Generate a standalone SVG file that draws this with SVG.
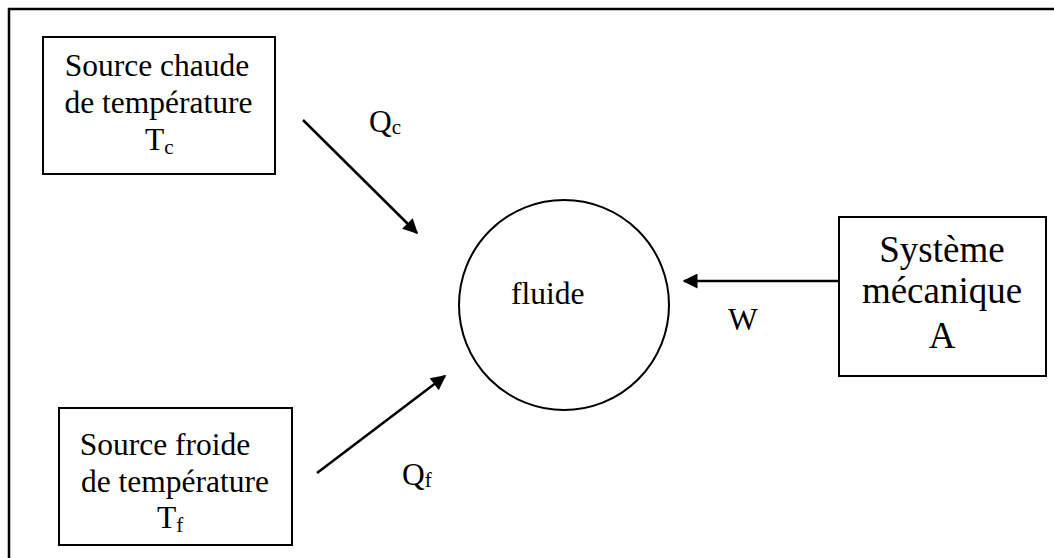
<svg xmlns="http://www.w3.org/2000/svg" width="1054" height="558" viewBox="0 0 1054 558">
<style>
.box{fill:#fff;stroke:#000;stroke-width:2}
.t{font-family:"Liberation Serif","Times New Roman",serif;font-size:31.5px;fill:#000}
.big{font-size:37px}
.sub{font-size:21px}
.c{text-anchor:middle}
.line{stroke:#000;stroke-width:2.5;fill:none}
</style>
<defs>
<marker id="ah2" viewBox="0 0 10 10" refX="9" refY="5" markerWidth="18" markerHeight="15" orient="auto" markerUnits="userSpaceOnUse">
<path d="M0,0 L10,5 L0,10 z" fill="#000"/>
</marker>
</defs>
<rect width="1054" height="558" fill="#fff"/>
<g id="frame">
<path d="M9,560 L9,9 L1056,9" fill="none" stroke="#000" stroke-width="2.5"/>
</g>
<g id="hot">
<rect class="box" x="43" y="37" width="232" height="137"/>
<text class="t c" x="157" y="76">Source chaude</text>
<text class="t c" x="158.5" y="113">de température</text>
<text class="t" x="145" y="150">T<tspan class="sub" dy="4">c</tspan></text>
</g>
<g id="cold">
<rect class="box" x="59" y="408" width="233" height="137"/>
<text class="t c" x="165" y="455">Source froide</text>
<text class="t c" x="175" y="492">de température</text>
<text class="t" x="157" y="528">T<tspan class="sub" dy="4">f</tspan></text>
</g>
<g id="fluide">
<circle cx="564" cy="305" r="105" fill="#fff" stroke="#000" stroke-width="2"/>
<text class="t" x="511" y="304">fluide</text>
</g>
<g id="meca">
<rect class="box" x="839" y="217" width="207" height="159"/>
<text class="t big c" x="942" y="262">Système</text>
<text class="t big c" x="942" y="303">mécanique</text>
<text class="t big c" x="942" y="348">A</text>
</g>
<g id="connectors">
<line class="line" x1="303" y1="120" x2="417" y2="233" marker-end="url(#ah2)"/>
<line class="line" x1="317" y1="473" x2="445" y2="376" marker-end="url(#ah2)"/>
<line class="line" x1="840" y1="281" x2="684" y2="281" marker-end="url(#ah2)"/>
</g>
<g id="labels">
<text class="t" x="369" y="132">Q<tspan class="sub" dy="2">c</tspan></text>
<text class="t" x="402" y="485">Q<tspan class="sub" dy="2">f</tspan></text>
<text class="t" x="728" y="330">W</text>
</g>
</svg>
